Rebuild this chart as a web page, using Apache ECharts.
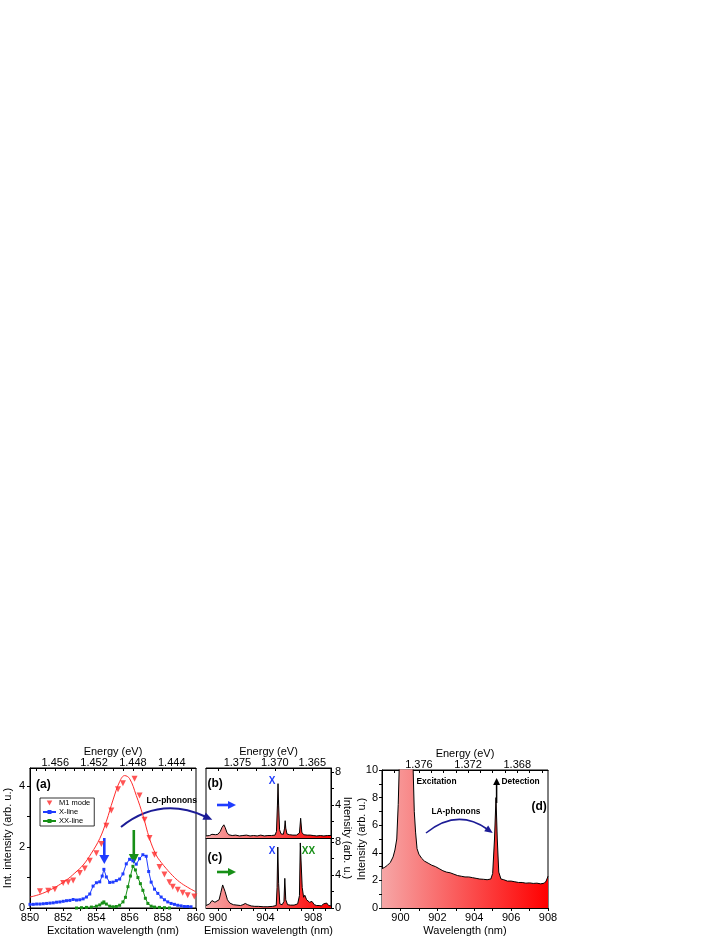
<!DOCTYPE html>
<html><head><meta charset="utf-8">
<script src="https://cdn.jsdelivr.net/npm/echarts@6/dist/echarts.min.js"></script>
<style>html,body{margin:0;padding:0;background:#fff}#c{width:725px;height:938px}</style>
</head><body><div id="c"></div>
<script>
// ---------------- data ----------------
// Panel (a)
const m1FitWl  = [850, 850.6, 851.2, 851.7, 852.2, 852.7, 853.2, 853.7, 854.2, 854.6, 855.0, 855.4, 855.7, 856.0, 856.4, 856.8, 857.2, 857.6, 857.9, 858.2, 858.6, 859.0, 859.5, 860];
const m1FitInt = [0.36, 0.45, 0.59, 0.74, 0.92, 1.15, 1.41, 1.8, 2.28, 2.85, 3.55, 4.15, 4.35, 4.25, 3.7, 3.05, 2.28, 1.74, 1.5, 1.3, 1.06, 0.86, 0.68, 0.53];
const m1Wl  = [850.6, 851.1, 851.5, 852.0, 852.3, 852.6, 853.0, 853.3, 853.6, 854.0, 854.3, 854.6, 854.9, 855.3, 855.6, 856.3, 856.6, 856.9, 857.2, 857.5, 857.8, 858.1, 858.4, 858.6, 858.9, 859.2, 859.5, 859.9];
const m1Int = [0.55, 0.57, 0.62, 0.82, 0.85, 0.9, 1.15, 1.3, 1.55, 1.8, 2.1, 2.7, 3.2, 3.9, 4.1, 4.25, 3.7, 2.9, 2.3, 1.75, 1.35, 1.1, 0.85, 0.7, 0.6, 0.5, 0.42, 0.38];
const xLineWl  = [850.0, 850.2, 850.4, 850.6, 850.8, 851.0, 851.2, 851.4, 851.6, 851.8, 852.0, 852.2, 852.4, 852.6, 852.8, 853.0, 853.2, 853.4, 853.6, 853.8, 854.0, 854.2, 854.35, 854.45, 854.6, 854.8, 855.0, 855.2, 855.4, 855.6, 855.8, 856.0, 856.2, 856.4, 856.6, 856.8, 857.0, 857.15, 857.3, 857.5, 857.7, 857.9, 858.1, 858.3, 858.5, 858.7, 858.9, 859.1, 859.3, 859.5, 859.7];
const xLineInt = [0.12, 0.12, 0.13, 0.13, 0.14, 0.15, 0.16, 0.17, 0.19, 0.2, 0.22, 0.24, 0.25, 0.28, 0.26, 0.27, 0.3, 0.36, 0.46, 0.72, 0.83, 0.86, 1.05, 1.27, 1.02, 0.84, 0.85, 0.9, 0.95, 1.12, 1.45, 1.6, 1.55, 1.44, 1.62, 1.75, 1.7, 1.2, 0.85, 0.62, 0.48, 0.36, 0.27, 0.2, 0.15, 0.12, 0.09, 0.07, 0.05, 0.05, 0.04];
const xxLineWl  = [852.8, 853.1, 853.4, 853.7, 854.0, 854.2, 854.35, 854.45, 854.6, 854.8, 855.0, 855.2, 855.4, 855.6, 855.75, 855.9, 856.05, 856.2, 856.35, 856.5, 856.65, 856.8, 856.95, 857.1, 857.3, 857.5, 857.8, 858.1, 858.4];
const xxLineInt = [0.0, 0.01, 0.02, 0.03, 0.06, 0.1, 0.16, 0.2, 0.13, 0.06, 0.04, 0.05, 0.09, 0.2, 0.35, 0.7, 1.05, 1.37, 1.25, 1.0, 0.8, 0.58, 0.32, 0.15, 0.06, 0.03, 0.02, 0.01, 0.0];
// Panel (b)
const bWl  = [899.0, 899.3, 899.5, 899.65, 899.8, 900.0, 900.2, 900.35, 900.5, 900.6, 900.75, 900.9, 901.2, 901.5, 901.8, 902.1, 902.4, 902.7, 903.0, 903.3, 903.6, 903.9, 904.2, 904.5, 904.8, 904.92, 905.0, 905.05, 905.1, 905.18, 905.3, 905.5, 905.6, 905.65, 905.7, 905.8, 906.0, 906.3, 906.6, 906.85, 906.95, 907.05, 907.2, 907.5, 907.65, 907.75, 908.0, 908.3, 908.6, 908.9, 909.2, 909.5];
const bInt = [0.25, 0.3, 0.45, 0.65, 0.4, 0.45, 0.8, 1.3, 1.6, 1.3, 0.7, 0.4, 0.3, 0.35, 0.25, 0.3, 0.35, 0.25, 0.3, 0.25, 0.35, 0.25, 0.3, 0.3, 0.35, 0.8, 4.0, 6.6, 4.0, 1.0, 0.5, 0.45, 1.2, 2.1, 1.2, 0.5, 0.4, 0.35, 0.35, 0.6, 2.4, 0.7, 0.4, 0.35, 0.5, 0.35, 0.3, 0.25, 0.3, 0.25, 0.3, 0.3];
// Panel (c)
const cWl  = [899.0, 899.3, 899.5, 899.6, 899.75, 899.9, 900.1, 900.25, 900.4, 900.5, 900.6, 900.8, 901.0, 901.3, 901.6, 901.9, 902.1, 902.3, 902.5, 902.8, 903.1, 903.4, 903.8, 904.2, 904.6, 904.9, 904.97, 905.03, 905.1, 905.2, 905.4, 905.55, 905.62, 905.7, 905.85, 906.1, 906.4, 906.7, 906.85, 906.92, 907.0, 907.08, 907.2, 907.3, 907.45, 907.55, 907.7, 907.9, 908.1, 908.3, 908.5, 908.7, 908.86, 909.0, 909.14, 909.3, 909.5];
const cInt = [0.3, 0.5, 0.9, 1.1, 0.7, 0.6, 1.0, 1.9, 2.8, 2.7, 2.0, 1.0, 0.6, 0.4, 0.35, 0.3, 0.4, 0.55, 0.4, 0.25, 0.2, 0.2, 0.15, 0.15, 0.2, 0.3, 2.5, 7.4, 3.0, 0.5, 0.4, 0.8, 3.6, 1.0, 0.4, 0.35, 0.35, 0.5, 1.5, 7.9, 7.9, 2.5, 1.3, 1.55, 1.0, 1.2, 0.7, 0.8, 0.4, 0.3, 0.3, 0.25, 0.5, 0.3, 0.6, 0.3, 0.25];
// Panel (d)
const dWl  = [899.0, 899.15, 899.3, 899.45, 899.6, 899.7, 899.8, 899.88, 899.95, 900.3, 900.6, 900.68, 900.75, 900.82, 900.9, 901.0, 901.15, 901.3, 901.5, 901.7, 901.9, 902.1, 902.3, 902.5, 902.7, 902.9, 903.1, 903.3, 903.5, 903.7, 903.9, 904.1, 904.3, 904.5, 904.7, 904.9, 905.0, 905.1, 905.18, 905.25, 905.33, 905.45, 905.6, 905.8, 906.0, 906.2, 906.4, 906.6, 906.8, 907.0, 907.2, 907.4, 907.6, 907.8, 907.9, 908.0];
const dInt = [2.85, 2.95, 3.1, 3.3, 3.7, 4.2, 5.0, 7.5, 11, 12, 12, 10.5, 7.0, 5.5, 4.3, 3.9, 3.6, 3.4, 3.25, 3.1, 3.0, 2.85, 2.7, 2.6, 2.55, 2.45, 2.35, 2.3, 2.25, 2.25, 2.2, 2.15, 2.1, 2.08, 2.05, 2.1, 2.5, 5.0, 8.0, 5.0, 2.6, 2.1, 2.05, 1.95, 1.95, 1.9, 1.85, 1.85, 1.8, 1.82, 1.78, 1.8, 1.75, 1.8, 1.95, 2.3];

// ---------------- tick labels ----------------
const aWlLabels = [850, 852, 854, 856, 858, 860];
const aWlTicks = [850, 851, 852, 853, 854, 855, 856, 857, 858, 859, 860];
const aEnergyLabels = [1.456, 1.452, 1.448, 1.444];
const aEnergyTicks = [1.442, 1.443, 1.444, 1.445, 1.446, 1.447, 1.448, 1.449, 1.450, 1.451, 1.452, 1.453, 1.454, 1.455, 1.456, 1.457, 1.458];
const aIntLabels = [0, 2, 4];
const aIntTicks = [0, 1, 2, 3, 4];
const bcWlLabels = [900, 904, 908];
const bcWlTicks = [900, 901, 902, 903, 904, 905, 906, 907, 908, 909];
const bEnergyLabels = [1.375, 1.370, 1.365];
const bEnergyTicks = [1.3775, 1.375, 1.3725, 1.370, 1.3675, 1.365];
const bIntLabels = [4, 8];
const cIntLabels = [0, 4, 8];
const bcIntTicks = [0, 2, 4, 6, 8];
const dWlLabels = [900, 902, 904, 906, 908];
const dWlTicks = [900, 901, 902, 903, 904, 905, 906, 907, 908];
const dEnergyLabels = [1.376, 1.372, 1.368];
const dEnergyTicks = [1.366, 1.367, 1.368, 1.369, 1.370, 1.371, 1.372, 1.373, 1.374, 1.375, 1.376, 1.377, 1.378];
const dIntLabels = [0, 2, 4, 6, 8, 10];
const dIntTicks = [0, 1, 2, 3, 4, 5, 6, 7, 8, 9, 10];

// ---------------- chart ----------------
const FONT = 'Liberation Sans, Arial, sans-serif';
const pairs = (xs, ys) => xs.map((x, i) => [x, ys[i]]);
const RED = '#ff2b2b', BLUE = '#1f3cff', GREEN = '#178f17', NAVY = '#1c1c96';

function xAx(o) {
  return Object.assign({
    type: 'value', splitLine: { show: false },
    axisLine: { show: true, onZero: false, lineStyle: { color: '#000', width: 1 } },
    axisTick: { show: true, length: 3, lineStyle: { color: '#000' } },
    axisLabel: { color: '#000', fontSize: 11, fontFamily: FONT, margin: 4 },
    nameTextStyle: { color: '#000', fontSize: 11, fontFamily: FONT },
    nameLocation: 'middle', nameMoveOverlap: false
  }, o);
}
function ticks(values, extra) { return Object.assign({ show: true, length: 3, lineStyle: { color: '#000' }, customValues: values }, extra || {}); }
function labels(values, fmt, extra) { return Object.assign({ color: '#000', fontSize: 11, fontFamily: FONT, margin: 4, customValues: values, formatter: fmt }, extra || {}); }
const eFmt = v => Number(v).toFixed(3);
const iFmt = v => String(Math.round(v));

const grad = () => new echarts.graphic.LinearGradient(0, 0, 1, 0, [
  { offset: 0, color: '#f6a6a6' }, { offset: 1, color: '#ff0000' }
]);

const chart = echarts.init(document.getElementById('c'), null, { renderer: 'canvas' });

function arrowHead(tx, ty, dx, dy, len, hw, color) {
  const L = Math.hypot(dx, dy); dx /= L; dy /= L;
  const bx = tx - dx * len, by = ty - dy * len;
  return { type: 'polygon', silent: true, shape: { points: [[tx, ty], [bx - dy * hw, by + dx * hw], [bx + dy * hw, by - dx * hw]] }, style: { fill: color } };
}
function straightArrow(x1, y1, x2, y2, color, w, len, hw) {
  const L = Math.hypot(x2 - x1, y2 - y1);
  const ex = x2 - (x2 - x1) / L * (len - 1), ey = y2 - (y2 - y1) / L * (len - 1);
  return [
    { type: 'line', silent: true, shape: { x1, y1, x2: ex, y2: ey }, style: { stroke: color, lineWidth: w } },
    arrowHead(x2, y2, x2 - x1, y2 - y1, len, hw, color)
  ];
}
function curvedArrow(x1, y1, cx, cy, x2, y2, color, w, len, hw) {
  const dx = x2 - cx, dy = y2 - cy, L = Math.hypot(dx, dy);
  const tx = x2 + dx / L * len, ty = y2 + dy / L * len;
  return [
    { type: 'bezierCurve', silent: true, shape: { x1, y1, x2, y2, cpx1: cx, cpy1: cy }, style: { stroke: color, lineWidth: w, fill: null } },
    arrowHead(tx, ty, dx, dy, len + 1, hw, color)
  ];
}
function txt(x, y, text, size, color, weight, align) {
  return { type: 'text', silent: true, x, y, style: { text, fontSize: size, fontFamily: FONT, fontWeight: weight || 'normal', fill: color || '#000', align: align || 'left', verticalAlign: 'middle' } };
}

const graphics = [].concat(
  straightArrow(104.3, 838, 104.3, 864, BLUE, 2.6, 9, 5),
  straightArrow(133.8, 830, 133.8, 864, GREEN, 2.6, 10, 5),
  straightArrow(217, 805, 236, 805, BLUE, 2.6, 8, 4),
  straightArrow(217, 872, 236, 872, GREEN, 2.6, 8, 4),
  straightArrow(406.7, 771, 406.7, 799, '#000', 1.5, 7, 3.5),
  straightArrow(496.6, 803, 496.6, 778, '#000', 1.5, 7, 3.5),
  curvedArrow(121, 827, 160, 796, 205, 816.5, NAVY, 2, 8, 4),
  curvedArrow(426, 833, 457, 808, 487, 829, NAVY, 1.6, 7, 3.5),
  [
    txt(36, 785, '(a)', 12, '#000', 'bold'),
    txt(146.5, 800.5, 'LO-phonons', 8.5, '#000', 'bold'),
    txt(207.5, 784, '(b)', 12, '#000', 'bold'),
    txt(207.5, 858, '(c)', 12, '#000', 'bold'),
    txt(272, 781, 'X', 10, BLUE, 'bold', 'center'),
    txt(272, 851, 'X', 10, BLUE, 'bold', 'center'),
    txt(308.5, 851, 'XX', 10, GREEN, 'bold', 'center'),
    txt(416.5, 781.5, 'Excitation', 8.4, '#000', 'bold'),
    txt(501.5, 782, 'Detection', 8.4, '#000', 'bold'),
    txt(431.5, 811.5, 'LA-phonons', 8.3, '#000', 'bold'),
    txt(531.5, 807, '(d)', 12, '#000', 'bold'),
    { type: 'text', silent: true, x: 347.5, y: 838, rotation: -Math.PI / 2,
      style: { text: 'Intensity (arb. u.)', fontSize: 11, fontFamily: FONT, fill: '#000', align: 'center', verticalAlign: 'middle' } }
  ]
);

const option = {
  animation: false,
  backgroundColor: '#fff',
  textStyle: { fontFamily: FONT },
  grid: [
    { left: 30, top: 768, width: 166, height: 140, show: true, borderColor: '#000', borderWidth: 1 },
    { left: 206, top: 768, width: 125, height: 70, show: true, borderColor: '#000', borderWidth: 1 },
    { left: 206, top: 838, width: 125, height: 70, show: true, borderColor: '#000', borderWidth: 1 },
    { left: 382, top: 770, width: 166, height: 138, show: true, borderColor: '#000', borderWidth: 1 }
  ],
  legend: {
    left: 40, top: 798, orient: 'vertical', itemGap: 1, itemWidth: 13, itemHeight: 5,
    padding: [1, 4, 1, 2], borderColor: '#000', borderWidth: 0.8, backgroundColor: '#fff',
    textStyle: { fontSize: 7.5, color: '#000', fontFamily: FONT, padding: [0, 0, 0, -2] },
    data: [
      { name: 'M1 mode', icon: 'path://M0,0L10,0L5,9Z' },
      { name: 'X-line' },
      { name: 'XX-line' }
    ]
  },
  xAxis: [
    xAx({ gridIndex: 0, position: 'bottom', min: 850, max: 860, name: 'Excitation wavelength (nm)', nameGap: 17.5,
      axisTick: ticks(aWlTicks), axisLabel: labels(aWlLabels, iFmt) }),
    xAx({ gridIndex: 0, position: 'top', inverse: true, min: 1.4415, max: 1.4586, name: 'Energy (eV)', nameGap: 10.5,
      axisTick: ticks(aEnergyTicks, { inside: true }), axisLabel: labels(aEnergyLabels, eFmt, { margin: 0 }) }),
    xAx({ gridIndex: 1, position: 'bottom', min: 899, max: 909.5, axisTick: { show: false }, axisLabel: { show: false } }),
    xAx({ gridIndex: 1, position: 'top', inverse: true, min: 1.3625, max: 1.3792, name: 'Energy (eV)', nameGap: 10.5,
      axisTick: ticks(bEnergyTicks, { inside: true }), axisLabel: labels(bEnergyLabels, eFmt, { margin: 0 }) }),
    xAx({ gridIndex: 2, position: 'bottom', min: 899, max: 909.5, name: 'Emission wavelength (nm)', nameGap: 17.5,
      axisTick: ticks(bcWlTicks), axisLabel: labels(bcWlLabels, iFmt) }),
    xAx({ gridIndex: 3, position: 'bottom', min: 899, max: 908, name: 'Wavelength (nm)', nameGap: 17.5,
      axisTick: ticks(dWlTicks), axisLabel: labels(dWlLabels, iFmt) }),
    xAx({ gridIndex: 3, position: 'top', inverse: true, min: 1.3655, max: 1.3790, name: 'Energy (eV)', nameGap: 10.5,
      axisTick: ticks(dEnergyTicks, { inside: true }), axisLabel: labels(dEnergyLabels, eFmt, { margin: 0 }) })
  ],
  yAxis: [
    xAx({ gridIndex: 0, position: 'left', min: 0, max: 4.6, name: 'Int. intensity (arb. u.)', nameGap: 17, nameRotate: 90,
      axisTick: ticks(aIntTicks), axisLabel: labels(aIntLabels, iFmt, { margin: 5 }) }),
    xAx({ gridIndex: 1, position: 'right', min: 0, max: 8.5,
      axisTick: ticks(bcIntTicks), axisLabel: labels(bIntLabels, iFmt, { margin: 4 }) }),
    xAx({ gridIndex: 2, position: 'right', min: 0, max: 8.5,
      axisTick: ticks(bcIntTicks), axisLabel: labels(cIntLabels, iFmt, { margin: 4 }) }),
    xAx({ gridIndex: 3, position: 'left', min: 0, max: 10, name: 'Intensity (arb. u.)', nameGap: 14.5, nameRotate: 90,
      axisTick: ticks(dIntTicks), axisLabel: labels(dIntLabels, iFmt, { margin: 4 }) })
  ],
  series: [
    { name: 'M1 fit', type: 'line', xAxisIndex: 0, yAxisIndex: 0, data: pairs(m1FitWl, m1FitInt), smooth: 0.4,
      showSymbol: false, lineStyle: { color: RED, width: 1 }, itemStyle: { color: RED }, z: 2 },
    { name: 'M1 mode', type: 'scatter', xAxisIndex: 0, yAxisIndex: 0, data: pairs(m1Wl, m1Int),
      symbol: 'triangle', symbolRotate: 180, symbolSize: 6, itemStyle: { color: RED }, z: 3 },
    { name: 'X-line', type: 'line', xAxisIndex: 0, yAxisIndex: 0, data: pairs(xLineWl, xLineInt),
      symbol: 'rect', symbolSize: 3, lineStyle: { color: BLUE, width: 1 }, itemStyle: { color: BLUE }, z: 4 },
    { name: 'XX-line', type: 'line', xAxisIndex: 0, yAxisIndex: 0, data: pairs(xxLineWl, xxLineInt),
      symbol: 'rect', symbolSize: 3, lineStyle: { color: GREEN, width: 1 }, itemStyle: { color: GREEN }, z: 4 },
    { name: 'b', type: 'line', xAxisIndex: 2, yAxisIndex: 1, data: pairs(bWl, bInt), showSymbol: false,
      lineStyle: { color: '#000', width: 1 }, areaStyle: { color: grad(), opacity: 1 } },
    { name: 'c', type: 'line', xAxisIndex: 4, yAxisIndex: 2, data: pairs(cWl, cInt), showSymbol: false,
      lineStyle: { color: '#000', width: 1 }, areaStyle: { color: grad(), opacity: 1 } },
    { name: 'd', type: 'line', xAxisIndex: 5, yAxisIndex: 3, data: pairs(dWl, dInt), showSymbol: false,
      lineStyle: { color: '#000', width: 1 }, areaStyle: { color: grad(), opacity: 1 } }
  ],
  graphic: graphics
};
chart.setOption(option);
</script>
</body></html>
